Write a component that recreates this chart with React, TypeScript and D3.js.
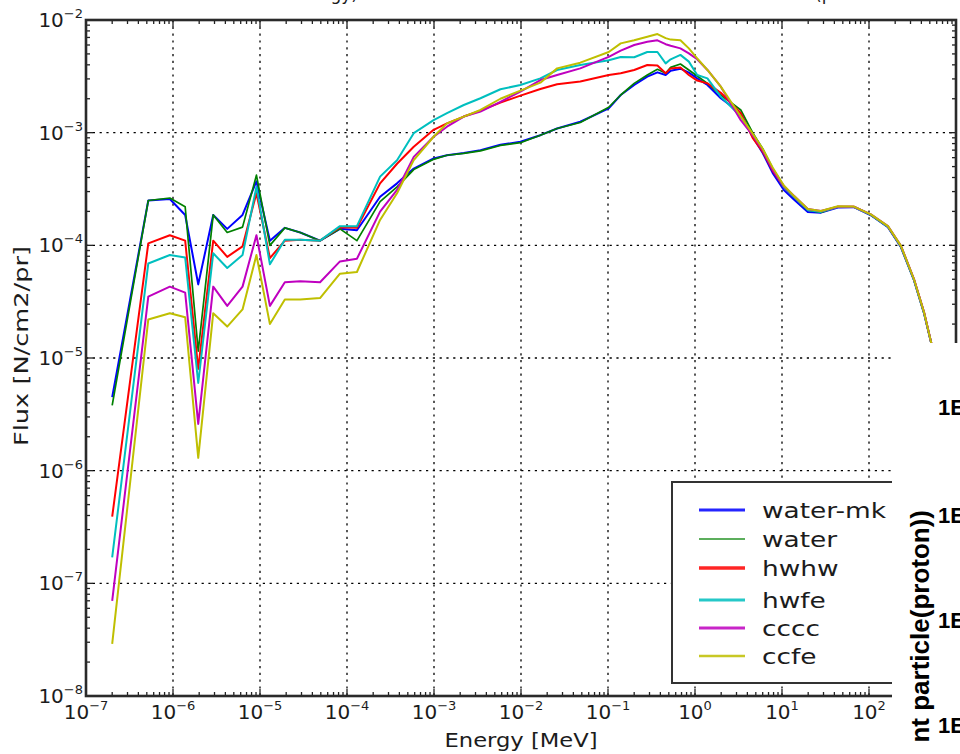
import React from 'react';
import * as d3 from 'd3';

// Energy bins [MeV]
const energy = [
  2e-7, 5.2e-7, 9.2e-7, 1.38e-6, 1.95e-6, 2.9e-6, 4.2e-6, 6.3e-6, 9.1e-6, 1.3e-5, 1.93e-5, 2.9e-5, 4.9e-5, 8.3e-5, 1.3e-4,
  2.4e-4, 3.76e-4, 5.85e-4, 9.9e-4, 1.41e-3, 2.2e-3, 3.42e-3, 5.8e-3, 9.86e-3, 1.67e-2, 2.6e-2, 4.8e-2, 0.102, 0.14, 0.2, 0.283, 0.37, 0.46, 0.525, 0.68, 0.85, 1.06, 1.39, 1.98, 3.36,
  4.6, 6.0, 7.8, 10.5, 13.7, 19.8, 28, 43.9, 67, 105, 165, 233, 329, 429, 515, 631, 794,
];

const waterMk = [
  4.5e-6, 2.5e-4, 2.58e-4, 1.86e-4, 4.5e-5, 1.86e-4, 1.4e-4, 1.86e-4, 3.7e-4, 1.1e-4, 1.43e-4, 1.3e-4, 1.1e-4, 1.4e-4, 1.36e-4,
  2.7e-4, 3.55e-4, 4.8e-4, 5.9e-4, 6.3e-4, 6.6e-4, 7.0e-4, 7.8e-4, 8.3e-4, 9.5e-4, 1.09e-3, 1.25e-3, 1.64e-3, 2.16e-3, 2.65e-3, 3.14e-3, 3.43e-3, 3.25e-3, 3.55e-3, 3.7e-3, 3.41e-3, 3.03e-3, 2.65e-3, 2.02e-3, 1.49e-3,
  9.2e-4, 6.6e-4, 4.4e-4, 3.1e-4, 2.55e-4, 1.98e-4, 1.95e-4, 2.17e-4, 2.18e-4, 1.85e-4, 1.45e-4, 9.6e-5, 4.9e-5, 2.5e-5, 1.39e-5, 7e-6, 3e-6,
];

const water = [
  3.8e-6, 2.5e-4, 2.63e-4, 2.2e-4, 1.15e-5, 1.86e-4, 1.3e-4, 1.45e-4, 4.2e-4, 1.0e-4, 1.43e-4, 1.3e-4, 1.1e-4, 1.4e-4, 1.1e-4,
  2.44e-4, 3.3e-4, 4.7e-4, 5.8e-4, 6.3e-4, 6.55e-4, 6.9e-4, 7.7e-4, 8.15e-4, 9.5e-4, 1.09e-3, 1.23e-3, 1.68e-3, 2.16e-3, 2.74e-3, 3.25e-3, 3.65e-3, 3.37e-3, 3.8e-3, 4.07e-3, 3.6e-3, 3.18e-3, 2.74e-3, 2.16e-3, 1.59e-3,
  1.0e-3, 7.2e-4, 4.8e-4, 3.35e-4, 2.7e-4, 2.05e-4, 1.96e-4, 2.2e-4, 2.2e-4, 1.86e-4, 1.46e-4, 9.7e-5, 4.9e-5, 2.5e-5, 1.38e-5, 7e-6, 3e-6,
];

const hwhw = [
  3.9e-7, 1.04e-4, 1.23e-4, 1.1e-4, 8e-6, 1.1e-4, 7.9e-5, 9.8e-5, 2.9e-4, 7.7e-5, 1.1e-4, 1.12e-4, 1.1e-4, 1.45e-4, 1.43e-4,
  3.55e-4, 5.3e-4, 7.5e-4, 1.06e-3, 1.21e-3, 1.39e-3, 1.57e-3, 1.85e-3, 2.13e-3, 2.44e-3, 2.69e-3, 2.84e-3, 3.25e-3, 3.37e-3, 3.6e-3, 3.99e-3, 3.94e-3, 3.37e-3, 3.72e-3, 3.78e-3, 3.25e-3, 2.9e-3, 2.74e-3, 2.26e-3, 1.49e-3,
  9.0e-4, 6.8e-4, 4.6e-4, 3.3e-4, 2.7e-4, 2.08e-4, 2.0e-4, 2.2e-4, 2.2e-4, 1.87e-4, 1.47e-4, 9.8e-5, 5.0e-5, 2.55e-5, 1.4e-5, 7e-6, 3e-6,
];

const hwfe = [
  1.7e-7, 6.9e-5, 8.2e-5, 7.8e-5, 6e-6, 8.5e-5, 6.3e-5, 8.2e-5, 3.3e-4, 6.8e-5, 1.12e-4, 1.12e-4, 1.1e-4, 1.48e-4, 1.48e-4,
  4.07e-4, 5.7e-4, 9.9e-4, 1.29e-3, 1.49e-3, 1.76e-3, 2.02e-3, 2.43e-3, 2.65e-3, 3.03e-3, 3.6e-3, 3.99e-3, 4.4e-3, 4.7e-3, 4.67e-3, 5.2e-3, 5.2e-3, 4.12e-3, 4.48e-3, 4.9e-3, 4.27e-3, 3.25e-3, 3.03e-3, 2.09e-3, 1.39e-3,
  9.6e-4, 7.1e-4, 4.8e-4, 3.3e-4, 2.7e-4, 2.06e-4, 1.98e-4, 2.19e-4, 2.19e-4, 1.86e-4, 1.46e-4, 9.7e-5, 4.9e-5, 2.5e-5, 1.39e-5, 7e-6, 3e-6,
];

const cccc = [
  7e-8, 3.5e-5, 4.3e-5, 3.8e-5, 2.6e-6, 4.3e-5, 2.9e-5, 4.3e-5, 1.23e-4, 2.9e-5, 4.7e-5, 4.8e-5, 4.7e-5, 7.2e-5, 7.6e-5,
  1.99e-4, 3.1e-4, 6.1e-4, 9.2e-4, 1.13e-3, 1.39e-3, 1.54e-3, 1.88e-3, 2.31e-3, 2.93e-3, 3.25e-3, 3.72e-3, 4.7e-3, 5.35e-3, 6.0e-3, 6.4e-3, 6.6e-3, 6.1e-3, 5.9e-3, 5.6e-3, 5.06e-3, 4.48e-3, 3.6e-3, 2.56e-3, 1.29e-3,
  9.5e-4, 7.0e-4, 4.7e-4, 3.35e-4, 2.75e-4, 2.1e-4, 2.02e-4, 2.2e-4, 2.2e-4, 1.88e-4, 1.48e-4, 9.9e-5, 5.0e-5, 2.55e-5, 1.4e-5, 7e-6, 3e-6,
];

const ccfe = [
  2.9e-8, 2.2e-5, 2.5e-5, 2.3e-5, 1.3e-6, 2.5e-5, 1.9e-5, 2.7e-5, 8.2e-5, 2.0e-5, 3.3e-5, 3.3e-5, 3.4e-5, 5.6e-5, 5.8e-5,
  1.68e-4, 2.9e-4, 5.7e-4, 9.2e-4, 1.21e-3, 1.39e-3, 1.59e-3, 2.0e-3, 2.36e-3, 2.78e-3, 3.72e-3, 4.18e-3, 5.2e-3, 6.2e-3, 6.6e-3, 7.1e-3, 7.5e-3, 6.9e-3, 6.7e-3, 6.6e-3, 5.6e-3, 4.57e-3, 3.6e-3, 2.56e-3, 1.39e-3,
  9.8e-4, 7.2e-4, 4.9e-4, 3.4e-4, 2.75e-4, 2.1e-4, 2.02e-4, 2.22e-4, 2.21e-4, 1.88e-4, 1.48e-4, 9.9e-5, 5.0e-5, 2.55e-5, 1.4e-5, 7e-6, 3e-6,
];

const seriesNames = ['water-mk', 'water', 'hwhw', 'hwfe', 'cccc', 'ccfe'];
const seriesValues = [waterMk, water, hwhw, hwfe, cccc, ccfe];
const seriesColors = ['#0000ff', '#008000', '#ff0000', '#00bfbf', '#bf00bf', '#bfbf00'];
const seriesWidths = [2, 1.7, 2, 2, 2, 2];
const legendWidths = [3, 1.5, 3.5, 3, 3, 2.5];

const xTickExponents = [-7, -6, -5, -4, -3, -2, -1, 0, 1, 2];
const yTickExponents = [-8, -7, -6, -5, -4, -3, -2];
const xLabel = 'Energy [MeV]';
const yLabel = 'Flux [N/cm2/pr]';
const sideTickLabels = ['1E', '1E', '1E', '1E'];
const sideAxisTitle = 'nt particle(proton))';

const FONT = "'DejaVu Sans', sans-serif";
const INK = '#1c1c1c';

export default function App() {
  const W = 960;
  const H = 754;
  const L = 86, R = 956, T = 20, B = 696;
  const x = d3.scaleLog().domain([1e-7, 1e3]).range([L, R]);
  const y = d3.scaleLog().domain([1e-8, 1e-2]).range([B, T]);
  const line = d3
    .line<number>()
    .x((_, i) => x(energy[i]))
    .y((d) => y(d));

  const minorX: number[] = [];
  for (let k = -7; k <= 2; k++) for (let m = 2; m <= 9; m++) minorX.push(m * Math.pow(10, k));
  const minorY: number[] = [];
  for (let k = -8; k <= -3; k++) for (let m = 2; m <= 9; m++) minorY.push(m * Math.pow(10, k));
  const majorX = d3.range(-7, 4).map((e) => Math.pow(10, e));
  const majorY = d3.range(-8, -1).map((e) => Math.pow(10, e));

  const grid = { stroke: '#000', strokeWidth: 1.3, strokeDasharray: '2.2 4.6' };
  const legendRows = [510, 539, 568, 600, 628, 656];

  return (
    <svg
      width={W}
      height={H}
      style={{ position: 'absolute', left: 0, top: 0, background: '#fff' }}
      fontFamily={FONT}
    >
      <rect x={0} y={0} width={W} height={H} fill="#fff" />
      {/* cut-off title fragments (only descenders visible in the reference) */}
      <text x={358} y={-0.5} textAnchor="end" fontSize={17} fill={INK}>Energy)</text>
      <text x={815} y={-0.5} fontSize={17} fill={INK}>(proton</text>

      <defs>
        <clipPath id="plotclip">
          <rect x={L} y={T} width={R - L} height={B - T} />
        </clipPath>
      </defs>

      {/* grid */}
      {d3.range(-6, 3).map((e) => (
        <line key={'gx' + e} x1={x(Math.pow(10, e))} x2={x(Math.pow(10, e))} y1={T} y2={B} {...grid} />
      ))}
      {d3.range(-7, -2).map((e) => (
        <line key={'gy' + e} x1={L} x2={R} y1={y(Math.pow(10, e))} y2={y(Math.pow(10, e))} {...grid} />
      ))}

      {/* curves */}
      <g clipPath="url(#plotclip)" fill="none" strokeLinejoin="round">
        {seriesValues.map((vals, i) => (
          <path key={seriesNames[i]} d={line(vals) || ''} stroke={seriesColors[i]} strokeWidth={seriesWidths[i]} />
        ))}
      </g>

      {/* ticks */}
      <g stroke="#222" strokeWidth={1.3}>
        {majorX.map((v, i) => (
          <g key={'mx' + i}>
            <line x1={x(v)} x2={x(v)} y1={B} y2={B - 7} />
            <line x1={x(v)} x2={x(v)} y1={T} y2={T + 7} />
          </g>
        ))}
        {minorX.map((v, i) => (
          <g key={'nx' + i}>
            <line x1={x(v)} x2={x(v)} y1={B} y2={B - 4} />
            <line x1={x(v)} x2={x(v)} y1={T} y2={T + 4} />
          </g>
        ))}
        {majorY.map((v, i) => (
          <g key={'my' + i}>
            <line x1={L} x2={L + 7} y1={y(v)} y2={y(v)} />
            <line x1={R} x2={R - 7} y1={y(v)} y2={y(v)} />
          </g>
        ))}
        {minorY.map((v, i) => (
          <g key={'ny' + i}>
            <line x1={L} x2={L + 4} y1={y(v)} y2={y(v)} />
            <line x1={R} x2={R - 4} y1={y(v)} y2={y(v)} />
          </g>
        ))}
      </g>

      {/* frame */}
      <rect x={L} y={T} width={R - L} height={B - T} fill="none" stroke="#2a2a2a" strokeWidth={2.6} />

      {/* tick labels */}
      {xTickExponents.map((e) => (
        <text key={'xl' + e} x={x(Math.pow(10, e))} y={719} textAnchor="middle" fontSize={20} fill={INK}>
          <tspan>10</tspan>
          <tspan dy={-9} fontSize={13}>{e < 0 ? '\u2212' + Math.abs(e) : String(e)}</tspan>
        </text>
      ))}
      {yTickExponents.map((e) => (
        <text key={'yl' + e} x={83} y={y(Math.pow(10, e)) + 7} textAnchor="end" fontSize={20} fill={INK}>
          <tspan>10</tspan>
          <tspan dy={-9} fontSize={13}>{'\u2212' + Math.abs(e)}</tspan>
        </text>
      ))}

      {/* axis labels */}
      <text x={521} y={747} textAnchor="middle" fontSize={20} fill={INK} textLength={153} lengthAdjust="spacingAndGlyphs">
        {xLabel}
      </text>
      <text
        transform={`translate(28,346) rotate(-90)`}
        textAnchor="middle"
        fontSize={20}
        fill={INK}
        textLength={200}
        lengthAdjust="spacingAndGlyphs"
      >
        {yLabel}
      </text>

      {/* legend */}
      <rect x={672} y={482} width={300} height={201} fill="#fff" stroke="#333" strokeWidth={2} />
      {seriesNames.map((n, i) => (
        <g key={'lg' + n}>
          <line x1={699} x2={745} y1={legendRows[i]} y2={legendRows[i]} stroke={seriesColors[i]} strokeWidth={legendWidths[i]} opacity={0.85} />
          <text transform={`translate(762,${legendRows[i] + 8}) scale(1.2,1)`} fontSize={22} fill={INK}>
            {n}
          </text>
        </g>
      ))}

      {/* overlapping neighbour picture */}
      <rect x={892} y={343} width={68} height={411} fill="#fff" />
      {sideTickLabels.map((t, i) => (
        <text key={'se' + i} x={938} y={[415, 523, 628, 733][i]} fontSize={22} fontWeight="bold" fontFamily="'Liberation Sans', Arial, sans-serif" fill="#000">
          {t}
        </text>
      ))}
      <text
        transform="translate(929,510) rotate(-90)"
        textAnchor="end"
        fontSize={26}
        fontWeight="bold"
        fontFamily="'Liberation Sans', Arial, sans-serif"
        fill="#000"
      >
        {sideAxisTitle}
      </text>
    </svg>
  );
}
